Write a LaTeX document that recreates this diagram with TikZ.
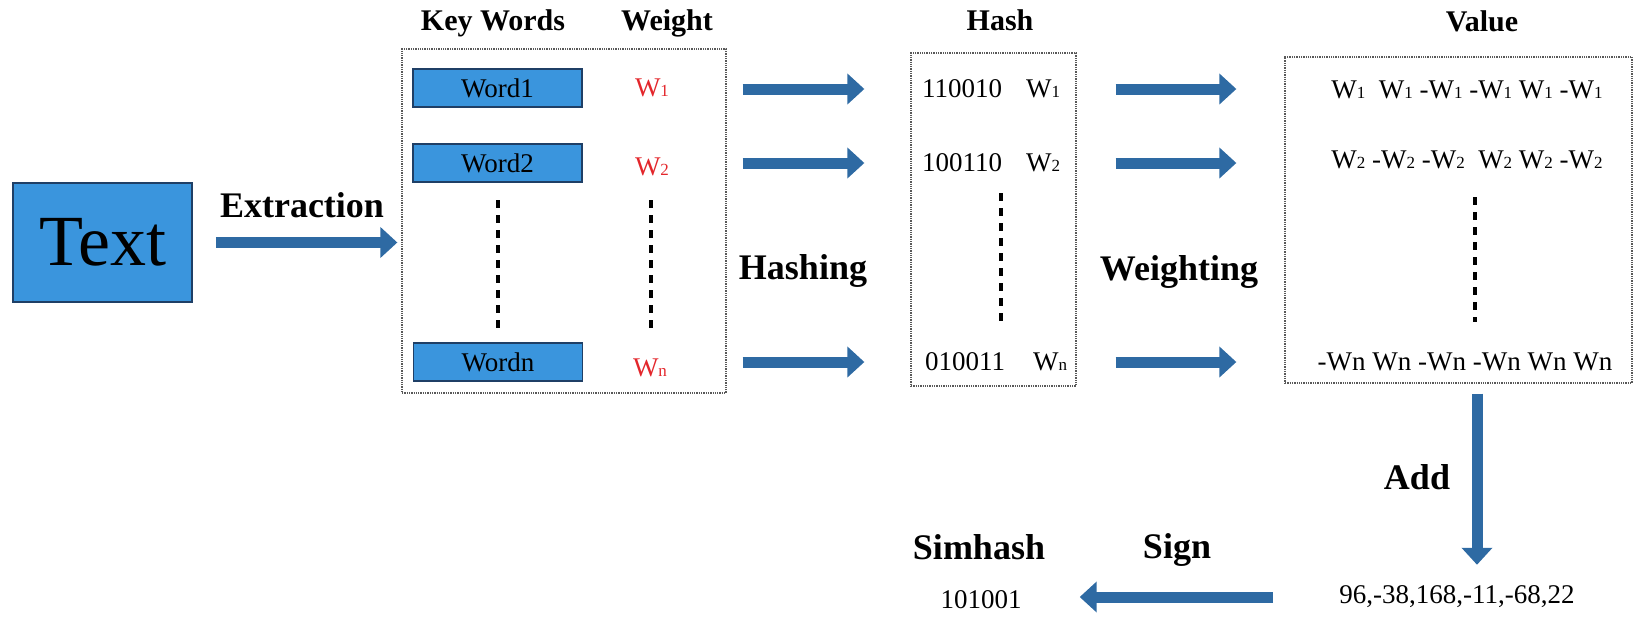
\documentclass[tikz,border=0pt]{standalone}
\usepackage{fontspec}
\setmainfont{Liberation Serif}
\usetikzlibrary{arrows.meta, positioning, calc}
\definecolor{boxblue}{HTML}{3A95DD}
\definecolor{boxline}{HTML}{1F3F66}
\definecolor{arrowblue}{HTML}{2E6AA3}
\definecolor{wred}{HTML}{E3262B}
\newcommand{\fs}[1]{\fontsize{#1}{#1}\selectfont}
\newcommand{\wsub}[1]{{\fs{17}#1}}

\begin{document}
\begin{tikzpicture}[x=1pt, y=-1pt,
  block/.style={draw=boxline, fill=boxblue, line width=1.5pt, inner sep=0pt},
  word/.style={block, minimum width=169pt, minimum height=38pt, font=\fs{27}},
  group/.style={draw=black!65, densely dotted, line width=1.3pt, inner sep=0pt},
  head/.style={font=\bfseries\fs{30}, inner sep=0pt},
  stage/.style={font=\bfseries\fs{36}, inner sep=0pt},
  txt/.style={font=\fs{27}, inner sep=0pt},
  wt/.style={txt, text=wred},
  flow/.style={line width=11pt, arrowblue, -{Triangle[length=17pt, width=30pt]}},
  gap/.style={line width=3.5pt, dash pattern=on 8pt off 7pt}
]
  \useasboundingbox (0,0) rectangle (1636,616);

  % source text
  \node[block, minimum width=179pt, minimum height=119pt, font=\fs{72}] (text) at (102.5,242.5) {Text};
  \node[stage] (extract) at (302,205) {Extraction};

  % key words and weights
  \node[group, minimum width=324pt, minimum height=344pt] (kwbox) at (564,221) {};
  \node[head] (kwhead) at (493,23) {Key Words};
  \node[head] (wthead) at (667,23) {Weight};
  \node[word] (word1) at (497.5,88)  {Word1};
  \node[word] (word2) at (497.5,163) {Word2};
  \node[word] (wordn) at (498,362)   {Wordn};
  \node[wt] (w1) at (652,88)  {W\wsub{1}};
  \node[wt] (w2) at (652,167) {W\wsub{2}};
  \node[wt] (wn) at (650,368) {W\wsub{n}};
  \draw[gap] (498,200) -- (498,328);
  \draw[gap] (651,200) -- (651,328);

  % hash
  \node[group, minimum width=165pt, minimum height=333pt] (hashbox) at (993.5,219.5) {};
  \node[head] (hashhead) at (1000,20) {Hash};
  \node[txt] (h1) at (962,89)  {110010};
  \node[txt] (h2) at (962,163) {100110};
  \node[txt] (hn) at (965,362) {010011};
  \node[txt] (hw1) at (1043,89)  {W\wsub{1}};
  \node[txt] (hw2) at (1043,163) {W\wsub{2}};
  \node[txt] (hwn) at (1050,362) {W\wsub{n}};
  \draw[gap] (1001,193) -- (1001,323);
  \node[stage] (hashing) at (803,271) {Hashing};

  % weighted values
  \node[group, minimum width=347pt, minimum height=326pt] (valbox) at (1458.5,220) {};
  \node[head] (valhead) at (1482,21) {Value};
  \node[txt] (v1) at (1467,90)  {W\wsub{1}\ \ W\wsub{1} -W\wsub{1} -W\wsub{1} W\wsub{1} -W\wsub{1}};
  \node[txt] (v2) at (1467,160) {W\wsub{2} -W\wsub{2} -W\wsub{2}\ \ W\wsub{2} W\wsub{2} -W\wsub{2}};
  \node[txt] (vn) at (1465,362) {-Wn Wn -Wn -Wn Wn Wn};
  \draw[gap] (1475,197) -- (1475,322);
  \node[stage] (weighting) at (1179,272) {Weighting};

  % sum and sign
  \node[txt] (sum) at (1457,597) {96,-38,168,-11,-68,22};
  \node[stage] (add) at (1417,477) {Add};
  \node[stage] (sign) at (1177,550) {Sign};
  \node[stage] (simhead) at (979,547) {Simhash};
  \node[txt] (simval) at (981,600) {101001};

  % arrows
  \draw[flow, shorten <=23pt, shorten >=4pt] (text.east) -- (text.east -| kwbox.west);
  \foreach \r in {1,2,n} {
    \draw[flow, shorten <=16pt, shorten >=46pt] (kwbox.east |- h\r) -- (hashbox.west |- h\r);
    \draw[flow, shorten <=39pt, shorten >=48pt] (hashbox.east |- h\r) -- (valbox.west |- h\r);
  }
  \draw[flow, shorten <=10pt, shorten >=21pt] ([xshift=18.5pt]valbox.south) -- ([xshift=20pt]sum.north);
  \draw[flow, shorten <=66pt, shorten >=58pt] (sum.west) -- (sum.west -| simval.east);
\end{tikzpicture}
\end{document}
